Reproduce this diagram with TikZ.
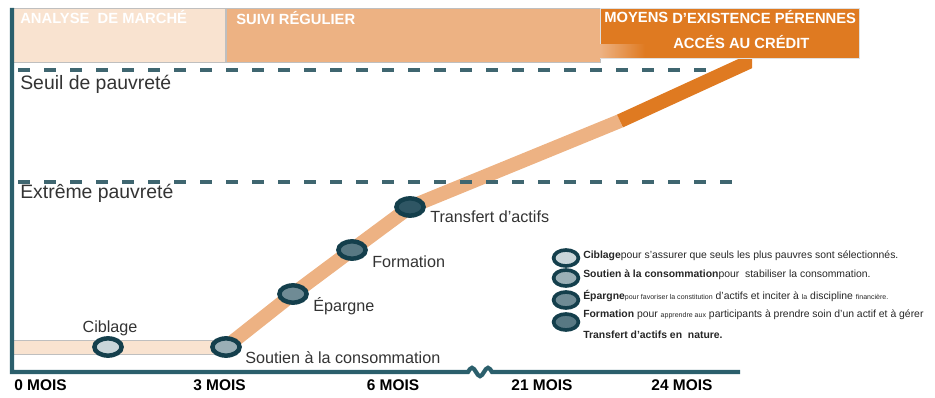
\documentclass[tikz,border=0pt]{standalone}
\usepackage{fontspec}
\setmainfont{Liberation Sans}
\usetikzlibrary{shapes.geometric}

\definecolor{axisteal}{HTML}{2B5F6C}
\definecolor{dashteal}{HTML}{3F6670}
\definecolor{ringteal}{HTML}{143F4C}
\definecolor{peachlight}{HTML}{F9E3D0}
\definecolor{peachtan}{HTML}{EDB283}
\definecolor{deeporange}{HTML}{DF7A21}
\definecolor{fillA}{HTML}{C9D5D9}
\definecolor{fillB}{HTML}{9AAFB6}
\definecolor{fillC}{HTML}{6F8B95}
\definecolor{fillD}{HTML}{587883}
\definecolor{fillE}{HTML}{2F5664}

% very small words inside the key
\newcommand{\tinyword}[1]{{\fontsize{5}{6}\selectfont #1}}

\begin{document}
\begin{tikzpicture}[
    stage/.style={ellipse, draw=ringteal, line width=3.2pt, minimum width=0.68cm, minimum height=0.43cm, inner sep=0pt},
    keydot/.style={ellipse, draw=ringteal, line width=2.6pt, minimum width=0.62cm, minimum height=0.4cm, inner sep=0pt},
    stagelbl/.style={text=black!80, font=\fontsize{11.5}{13}\selectfont, inner sep=0pt},
    levellbl/.style={text=black!80, font=\fontsize{13.8}{16}\selectfont, inner sep=0pt, anchor=west},
    monthlbl/.style={font=\fontsize{11}{13}\selectfont\bfseries, inner sep=0pt},
    barlbl/.style={text=white, font=\fontsize{10.5}{12}\selectfont\bfseries, inner sep=0pt, anchor=west},
    keylbl/.style={text=black!85, font=\fontsize{7.4}{9}\selectfont, inner sep=0pt, anchor=west},
    level/.style={dashteal, line width=2.8pt, dash pattern=on 0.3cm off 0.35cm},
  ]

  \useasboundingbox (0,0) rectangle (23.375,9.925);

  % phases along the top
  \fill[peachlight, draw=black!25, line width=0.4pt] (0.325,8.375) rectangle (5.625,9.725);
  \fill[peachtan, draw=black!25, line width=0.4pt] (5.65,8.375) rectangle (15.0,9.725);

  % path of the household
  \coordinate (c-start) at (0.3,1.25);
  \coordinate (c-ciblage) at (2.7,1.25);
  \coordinate (c-soutien) at (5.65,1.25);
  \coordinate (c-epargne) at (7.325,2.575);
  \coordinate (c-formation) at (8.8,3.675);
  \coordinate (c-transfert) at (10.25,4.75);
  \coordinate (c-mid) at (15.5,6.9);
  \coordinate (c-top) at (19.1,8.55);

  \fill[peachlight, draw=black!25, line width=0.4pt] (0.3,1.075) rectangle (5.65,1.425);
  \draw[peachtan, line width=10pt, line join=round] (c-soutien) -- (c-epargne) -- (c-formation)
    -- (c-transfert) -- (c-mid);
  \begin{scope}
    \clip (0,0) rectangle (18.8,9.925);
    \draw[deeporange, line width=10pt] (c-mid) -- (c-top);
  \end{scope}

  \fill[deeporange, draw=black!12, line width=0.4pt] (15.0,8.475) rectangle (21.475,9.725);
  \shade[left color=peachtan, right color=deeporange] (15.0,8.475) rectangle (16.125,8.8);

  \node[barlbl] (analyse) at (0.5,9.5) {ANALYSE\ \ DE MARCHÉ};
  \node[barlbl] (suivi) at (5.9,9.475) {SUIVI RÉGULIER};
  \node[barlbl] (moyens) at (15.1,9.5) {MOYENS};
  \node[barlbl] (existence) at (16.8,9.5) {D’EXISTENCE PÉRENNES};
  \node[barlbl] (credit) at (16.825,8.875) {ACCÉS AU CRÉDIT};

  % poverty levels
  \draw[level] (0.45,8.175) -- (17.75,8.175);
  \draw[level] (0.45,5.375) -- (18.375,5.375);
  \node[levellbl] (seuil) at (0.5,7.825) {Seuil de pauvreté};
  \node[levellbl] (extreme) at (0.5,5.1) {Extrême pauvreté};

  % axes with a break
  \draw[axisteal, line width=3pt] (0.3,9.725) -- (0.3,0.625) -- (11.7,0.625)
    sin (11.8,0.73) cos (11.9,0.625) sin (12.0,0.52) cos (12.1,0.625)
    sin (12.2,0.73) cos (12.3,0.625) -- (18.5,0.625);

  \node[monthlbl] (m0) at (1.0125,0.3) {0 MOIS};
  \node[monthlbl] (m3) at (5.4875,0.3) {3 MOIS};
  \node[monthlbl] (m6) at (9.825,0.3) {6 MOIS};
  \node[monthlbl] (m21) at (13.55,0.3) {21 MOIS};
  \node[monthlbl] (m24) at (17.05,0.3) {24 MOIS};

  % stages
  \node[stage, fill=fillA] (ciblage) at (c-ciblage) {};
  \node[stage, fill=fillB] (soutien) at (c-soutien) {};
  \node[stage, fill=fillC] (epargne) at (c-epargne) {};
  \node[stage, fill=fillD] (formation) at (c-formation) {};
  \node[stage, fill=fillE] (transfert) at (c-transfert) {};

  \node[stagelbl] (ciblage-lbl) at (2.75,1.725) {Ciblage};
  \node[stagelbl, anchor=west] (soutien-lbl) at (6.125,0.975) {Soutien à la consommation};
  \node[stagelbl, anchor=west] (epargne-lbl) at (7.825,2.275) {Épargne};
  \node[stagelbl, anchor=west] (formation-lbl) at (9.3,3.375) {Formation};
  \node[stagelbl, anchor=west] (transfert-lbl) at (10.75,4.5) {Transfert d’actifs};

  % key
  \node[keydot, fill=fillA] (key1) at (14.15,3.475) {};
  \node[keydot, fill=fillB] (key2) at (14.15,2.975) {};
  \node[keydot, fill=fillC] (key3) at (14.15,2.425) {};
  \node[keydot, fill=fillD] (key4) at (14.15,1.875) {};

  \node[keylbl] (key1-txt) at (14.575,3.525) {\textbf{Ciblage}pour s’assurer que seuls les plus pauvres sont sélectionnés.};
  \node[keylbl] (key2-txt) at (14.575,3.05) {\textbf{Soutien à la consommation}pour\ \ stabiliser la consommation.};
  \node[keylbl] (key3-txt) at (14.575,2.525) {\textbf{Épargne}\tinyword{pour favoriser la constitution} d’actifs et inciter à \tinyword{la} discipline \tinyword{financière.}};
  \node[keylbl] (key4-txt) at (14.575,2.05) {\textbf{Formation} pour \tinyword{apprendre aux} participants à prendre\ soin d’un actif et à gérer};
  \node[keylbl] (key5-txt) at (14.575,1.55) {\textbf{Transfert d’actifs en\ \ nature.}};

\end{tikzpicture}
\end{document}
